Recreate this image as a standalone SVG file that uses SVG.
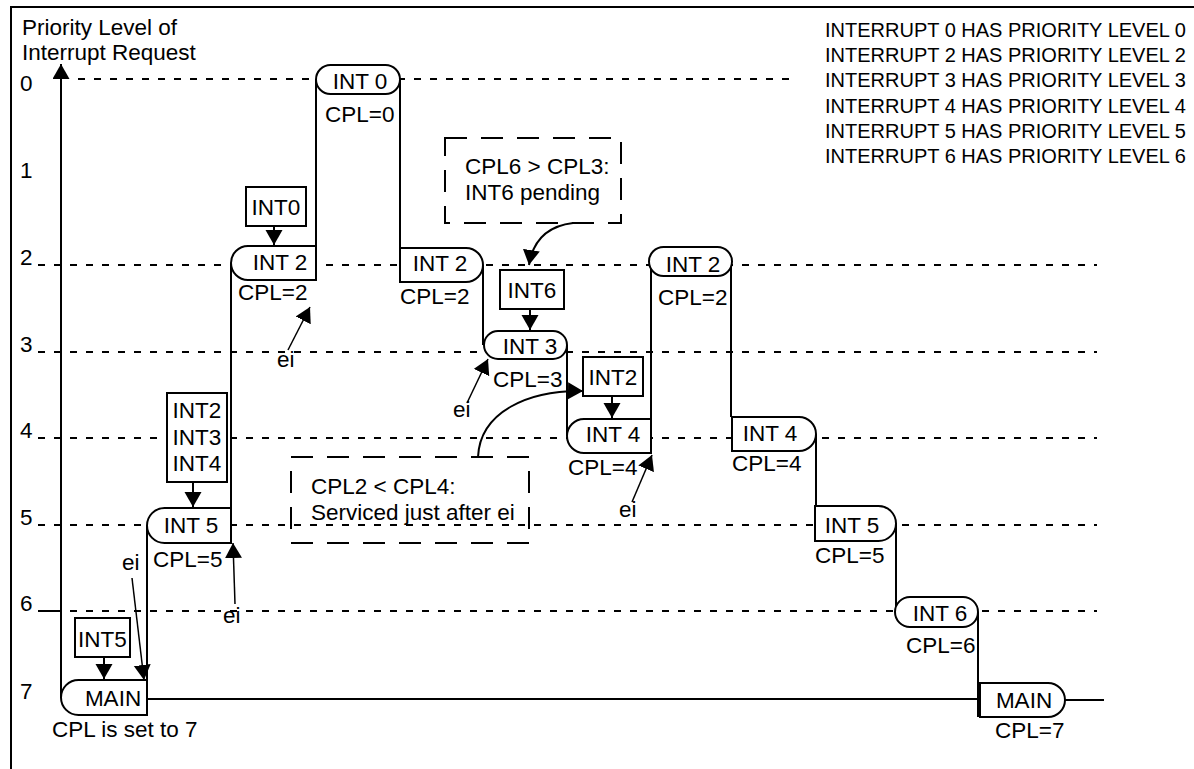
<svg xmlns="http://www.w3.org/2000/svg" width="1194" height="769" viewBox="0 0 1194 769">
<defs>
<marker id="ah" markerUnits="userSpaceOnUse" markerWidth="16" markerHeight="18" refX="15" refY="8.5" orient="auto" viewBox="0 0 16 18"><path d="M0,0 L15,8.5 L0,17 z" fill="#000"/></marker>
<style>
text{font-family:"Liberation Sans",Arial,sans-serif;font-size:22.5px;fill:#000}
.lg{font-size:20px}
.c{text-anchor:middle}
.box{fill:#fff;stroke:#000;stroke-width:2}
.w{fill:none;stroke:#000;stroke-width:2}
.lv{fill:none;stroke:#000;stroke-width:2;stroke-dasharray:7 9}
.note{fill:none;stroke:#000;stroke-width:2;stroke-dasharray:22 14}
.arr{fill:none;stroke:#000;stroke-width:2;marker-end:url(#ah)}
.thin{fill:none;stroke:#000;stroke-width:1.5;marker-end:url(#ah)}
</style>
</defs>
<rect width="1194" height="769" fill="#fff"/>
<g id="frame">
<path class="w" d="M11,769 V7 H1194" stroke-width="2.5"/>
</g>
<g id="axis-labels">
<text x="22" y="35">Priority Level of</text>
<text x="22" y="60">Interrupt Request</text>
<text x="20" y="91">0</text>
<text x="20" y="178">1</text>
<text x="20" y="265">2</text>
<text x="20" y="352">3</text>
<text x="20" y="438">4</text>
<text x="20" y="525">5</text>
<text x="20" y="611">6</text>
<text x="20" y="699">7</text>
</g>
<g id="legend" class="lg">
<text class="lg" x="825" y="37">INTERRUPT 0 HAS PRIORITY LEVEL 0</text>
<text class="lg" x="825" y="62">INTERRUPT 2 HAS PRIORITY LEVEL 2</text>
<text class="lg" x="825" y="87">INTERRUPT 3 HAS PRIORITY LEVEL 3</text>
<text class="lg" x="825" y="113">INTERRUPT 4 HAS PRIORITY LEVEL 4</text>
<text class="lg" x="825" y="138">INTERRUPT 5 HAS PRIORITY LEVEL 5</text>
<text class="lg" x="825" y="163">INTERRUPT 6 HAS PRIORITY LEVEL 6</text>
</g>
<g id="levels">
<path class="lv" d="M78,79 H795"/>
<path class="lv" d="M38,265 H1097"/>
<path class="lv" d="M38,352 H1097"/>
<path class="lv" d="M38,438 H1097"/>
<path class="lv" d="M38,525 H1097"/>
<path class="w" d="M38,611 H61"/>
<path class="lv" d="M70,611 H1097"/>
</g>
<g id="connectors">
<path class="arr" d="M61,697 V64"/>
<path class="w" d="M147,680 V525"/>
<path class="w" d="M147,699 H980"/>
<path class="w" d="M231,508 V263"/>
<path class="w" d="M316,246 V80"/>
<path class="w" d="M400,80 V248"/>
<path class="w" d="M483,265 V345"/>
<path class="w" d="M567,345 V436"/>
<path class="w" d="M651,419 V262"/>
<path class="w" d="M731,262 V417"/>
<path class="w" d="M816,434 V506"/>
<path class="w" d="M896,524 V612"/>
<path class="w" d="M978,612 V717"/>
<path class="w" d="M1065,700 H1104"/>
<path class="arr" d="M104,657 V679"/>
<path class="arr" d="M193,482 V507"/>
<path class="arr" d="M274,226 V245"/>
<path class="arr" d="M530,309 V330"/>
<path class="arr" d="M612,396 V418"/>
<path class="thin" d="M132,578 L144,680"/>
<path class="thin" d="M235,604 L233,543"/>
<path class="thin" d="M288,350 L310,307"/>
<path class="thin" d="M467,403 L488,359"/>
<path class="thin" d="M632,502 L652,455"/>
<path class="arr" d="M573,223 C548,226 533,240 529,265"/>
<path class="arr" d="M478,457 C480,412 528,390 583,391"/>
</g>
<g id="main1"><path class="box" d="M147,680 H78.5 A17.5,17.5 0 0 0 78.5,715 H147 Z"/><text class="c" x="113" y="706">MAIN</text></g>
<g id="int5a"><path class="box" d="M231,508 H164.5 A17.5,17.5 0 0 0 164.5,543 H231 Z"/><text class="c" x="191" y="533">INT 5</text></g>
<g id="int2a"><path class="box" d="M316,246 H248 A17,17 0 0 0 248,280 H316 Z"/><text class="c" x="280" y="270">INT 2</text></g>
<g id="int0"><rect class="box" x="316" y="65" width="84" height="29" rx="14.5"/><text class="c" x="360" y="89">INT 0</text></g>
<g id="int2b"><path class="box" d="M400,248 H466 A17,17 0 0 1 466,282 H400 Z"/><text class="c" x="440" y="271">INT 2</text></g>
<g id="int3"><rect class="box" x="484" y="331" width="83" height="28" rx="14"/><text class="c" x="530" y="354">INT 3</text></g>
<g id="int4a"><path class="box" d="M651,419 H584 A17,17 0 0 0 584,453 H651 Z"/><text class="c" x="613" y="442">INT 4</text></g>
<g id="int2c"><rect class="box" x="649" y="247" width="83" height="29" rx="14.5"/><text class="c" x="693" y="272">INT 2</text></g>
<g id="int4b"><path class="box" d="M732,417 H799 A17,17 0 0 1 799,451 H732 Z"/><text class="c" x="770" y="441">INT 4</text></g>
<g id="int5b"><path class="box" d="M815,506 H878.5 A17.5,17.5 0 0 1 878.5,541 H815 Z"/><text class="c" x="852" y="533">INT 5</text></g>
<g id="int6"><rect class="box" x="895" y="597" width="83" height="30" rx="15"/><text class="c" x="940" y="621">INT 6</text></g>
<g id="main2"><path class="box" d="M980,683 H1048 A17,17 0 0 1 1048,717 H980 Z"/><text class="c" x="1024" y="708">MAIN</text></g>
<g id="cpl-labels">
<text x="325" y="122">CPL=0</text>
<text x="238" y="300">CPL=2</text>
<text x="400" y="304">CPL=2</text>
<text x="493" y="387">CPL=3</text>
<text x="568" y="475">CPL=4</text>
<text x="658" y="305">CPL=2</text>
<text x="732" y="471">CPL=4</text>
<text x="815" y="563">CPL=5</text>
<text x="906" y="653">CPL=6</text>
<text x="995" y="738">CPL=7</text>
<text x="153" y="567">CPL=5</text>
<text x="52" y="737">CPL is set to 7</text>
</g>
<g id="req-int5"><rect class="box" x="75" y="618" width="55" height="39"/><text class="c" x="102.5" y="647">INT5</text></g>
<g id="req-int234"><rect class="box" x="167" y="393" width="60" height="89"/><text class="c" x="197" y="418">INT2</text><text class="c" x="197" y="445">INT3</text><text class="c" x="197" y="471">INT4</text></g>
<g id="req-int0"><rect class="box" x="246" y="187" width="60" height="39"/><text class="c" x="276" y="215">INT0</text></g>
<g id="req-int6"><rect class="box" x="500" y="270" width="64" height="39"/><text class="c" x="532" y="298">INT6</text></g>
<g id="req-int2"><rect class="box" x="583" y="357" width="60" height="39"/><text class="c" x="613" y="385">INT2</text></g>
<g id="ei-labels">
<text x="122" y="570">ei</text>
<text x="223" y="623">ei</text>
<text x="277" y="367">ei</text>
<text x="453" y="417">ei</text>
<text x="619" y="517">ei</text>
</g>
<g id="note1"><rect class="note" x="445" y="138" width="176" height="85"/><text x="465" y="174">CPL6 &gt; CPL3:</text><text x="465" y="200">INT6 pending</text></g>
<g id="note2"><rect class="note" x="291" y="457" width="238" height="86"/><text x="311" y="494">CPL2 &lt; CPL4:</text><text x="311" y="520">Serviced just after ei</text></g>
</svg>
